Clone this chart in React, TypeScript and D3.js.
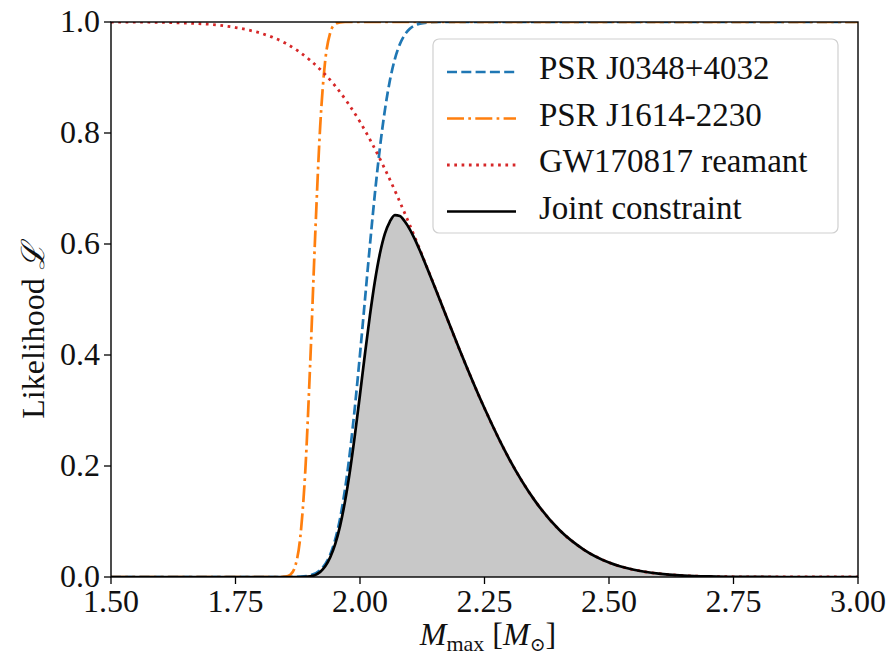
import React from "react";
import * as d3 from "d3";

// ---- data ----
const xTicks = [1.5, 1.75, 2.0, 2.25, 2.5, 2.75, 3.0];
const yTicks = [0.0, 0.2, 0.4, 0.6, 0.8, 1.0];

// PSR J0348+4032 (likelihood vs Mmax)
const massJ0348 = [1.5, 1.84, 1.86, 1.88, 1.9, 1.92, 1.94, 1.95, 1.96, 1.97, 1.98, 1.99, 2.0, 2.01, 2.02, 2.03, 2.04, 2.05, 2.06, 2.07, 2.08, 2.09, 2.1, 2.12, 2.14, 2.16, 3.0];
const likeJ0348 = [0, 0, 0.0001, 0.0006, 0.003, 0.0122, 0.0401, 0.0668, 0.1056, 0.1587, 0.2266, 0.3085, 0.4013, 0.5, 0.5987, 0.6915, 0.7734, 0.8413, 0.8944, 0.9332, 0.9599, 0.9772, 0.9878, 0.997, 0.9994, 1.0, 1.0];

// PSR J1614-2230
const massJ1614 = [1.5, 1.84, 1.85, 1.86, 1.87, 1.88, 1.89, 1.9, 1.91, 1.92, 1.93, 1.94, 1.95, 1.96, 1.97, 3.0];
const likeJ1614 = [0, 0, 0.0006, 0.004, 0.0197, 0.071, 0.189, 0.385, 0.615, 0.811, 0.929, 0.98, 0.996, 0.9994, 1.0, 1.0];

// GW170817 remnant
const massGW = [1.5, 1.55, 1.6, 1.65, 1.7, 1.75, 1.8, 1.85, 1.9, 1.95, 2.0, 2.05, 2.1, 2.15, 2.2, 2.25, 2.3, 2.35, 2.4, 2.45, 2.5, 2.55, 2.6, 2.65, 2.7, 2.75, 2.8, 2.85, 2.9, 2.95, 3.0];
const likeGW = [1.0, 0.9998, 0.9993, 0.998, 0.9957, 0.99, 0.98, 0.962, 0.931, 0.885, 0.82, 0.735, 0.634, 0.523, 0.409, 0.304, 0.212, 0.139, 0.085, 0.049, 0.026, 0.013, 0.006, 0.0026, 0.001, 0.0004, 0.0001, 0, 0, 0, 0];

// Joint constraint
const massJoint = [1.5, 1.86, 1.88, 1.9, 1.92, 1.94, 1.95, 1.96, 1.97, 1.98, 1.99, 2.0, 2.01, 2.02, 2.03, 2.04, 2.05, 2.06, 2.07, 2.08, 2.09, 2.1, 2.11, 2.12, 2.13, 2.14, 2.16, 2.18, 2.2, 2.25, 2.3, 2.35, 2.4, 2.45, 2.5, 2.55, 2.6, 2.65, 2.7, 2.75, 2.8, 2.85, 2.9, 2.95, 3.0];
const likeJoint = [0, 0, 0, 0.0011, 0.0091, 0.0352, 0.0589, 0.0922, 0.1367, 0.1922, 0.2574, 0.3289, 0.4022, 0.4718, 0.5334, 0.5828, 0.6186, 0.6405, 0.6520, 0.6505, 0.6405, 0.6265, 0.6087, 0.5886, 0.5673, 0.5452, 0.5, 0.4545, 0.4096, 0.304, 0.212, 0.139, 0.085, 0.049, 0.026, 0.013, 0.006, 0.0026, 0.001, 0.0004, 0.0001, 0, 0, 0, 0];

const legendLabels = ["PSR J0348+4032", "PSR J1614-2230", "GW170817 reamant", "Joint constraint"];

const W = 889;
const H = 663;
const FONT = "Liberation Serif, DejaVu Serif, serif";

type Pt = [number, number];
const zip = (a: number[], b: number[]): Pt[] => a.map((v, i) => [v, b[i]]);

const T = (props: any) => (
  <text fontFamily={FONT} fill="#111" {...props} style={{ fontFamily: FONT }} />
);

export default function App() {
  const x = d3.scaleLinear().domain([1.5, 3.0]).range([111, 858]);
  const y = d3.scaleLinear().domain([0, 1]).range([577, 22]);

  const line = d3
    .line<Pt>()
    .x((d) => x(d[0]))
    .y((d) => y(d[1]))
    .curve(d3.curveMonotoneX);
  const area = d3
    .area<Pt>()
    .x((d) => x(d[0]))
    .y0(y(0))
    .y1((d) => y(d[1]))
    .curve(d3.curveMonotoneX);

  const series = [
    { pts: zip(massJ0348, likeJ0348), color: "#1f77b4", dash: "10,4.3", w: 2.7 },
    { pts: zip(massJ1614, likeJ1614), color: "#ff7f0e", dash: "17,4.3,2.7,4.3", w: 2.7 },
    { pts: zip(massGW, likeGW), color: "#d62728", dash: "2.7,4.6", w: 2.8 },
    { pts: zip(massJoint, likeJoint), color: "#000000", dash: "none", w: 2.7 },
  ];

  const [x0, x1] = x.range();
  const [yb, yt] = y.range();

  const legendX = 433;
  const legendY = 39;
  const rowH = 46.5;

  return (
    <svg
      width={W}
      height={H}
      style={{ position: "absolute", left: 0, top: 0, background: "#fff" }}
    >
      <rect x={0} y={0} width={W} height={H} fill="#fff" />
      <defs>
        <clipPath id="plotclip">
          <rect x={x0} y={yt} width={x1 - x0} height={yb - yt} />
        </clipPath>
      </defs>

      <g clipPath="url(#plotclip)">
        <path d={area(zip(massJoint, likeJoint)) || ""} fill="#c8c8c8" />
        {series.map((s, i) => (
          <path
            key={i}
            d={line(s.pts) || ""}
            fill="none"
            stroke={s.color}
            strokeWidth={s.w}
            strokeDasharray={s.dash}
          />
        ))}
      </g>

      {/* spines */}
      <rect x={x0} y={yt} width={x1 - x0} height={yb - yt} fill="none" stroke="#000" strokeWidth={1.4} />

      {/* x ticks */}
      {xTicks.map((t) => (
        <g key={"x" + t}>
          <line x1={x(t)} x2={x(t)} y1={yb} y2={yb + 7} stroke="#000" strokeWidth={1.3} />
          <T x={x(t)} y={yb + 35} textAnchor="middle" fontSize={32}>
            {d3.format(".2f")(t)}
          </T>
        </g>
      ))}

      {/* y ticks */}
      {yTicks.map((t) => (
        <g key={"y" + t}>
          <line x1={x0 - 7} x2={x0} y1={y(t)} y2={y(t)} stroke="#000" strokeWidth={1.3} />
          <T x={x0 - 11} y={y(t) + 10} textAnchor="end" fontSize={32}>
            {d3.format(".1f")(t)}
          </T>
        </g>
      ))}

      {/* axis labels */}
      <T x={488} y={645} textAnchor="middle" fontSize={32}>
        <tspan fontStyle="italic">M</tspan>
        <tspan fontSize={22} dy={6}>max</tspan>
        <tspan dy={-6} dx={8}>[</tspan>
        <tspan fontStyle="italic">M</tspan>
        <tspan fontSize={19} dy={6}>⊙</tspan>
        <tspan dy={-6}>]</tspan>
      </T>
      <T transform={`translate(44, 331) rotate(-90)`} textAnchor="middle" fontSize={32}>
        Likelihood <tspan fontStyle="italic">ℒ</tspan>
      </T>

      {/* legend */}
      <rect
        x={legendX}
        y={legendY}
        width={405}
        height={194}
        rx={6}
        fill="#fff"
        fillOpacity={0.8}
        stroke="#d0d0d0"
        strokeWidth={1.2}
      />
      {series.map((s, i) => {
        const cy = legendY + 33 + i * rowH;
        return (
          <g key={"lg" + i}>
            <line
              x1={447}
              x2={516}
              y1={cy}
              y2={cy}
              stroke={s.color}
              strokeWidth={s.w}
              strokeDasharray={s.dash}
            />
            <T x={539} y={cy + 7} fontSize={33}>
              {legendLabels[i]}
            </T>
          </g>
        );
      })}
    </svg>
  );
}
